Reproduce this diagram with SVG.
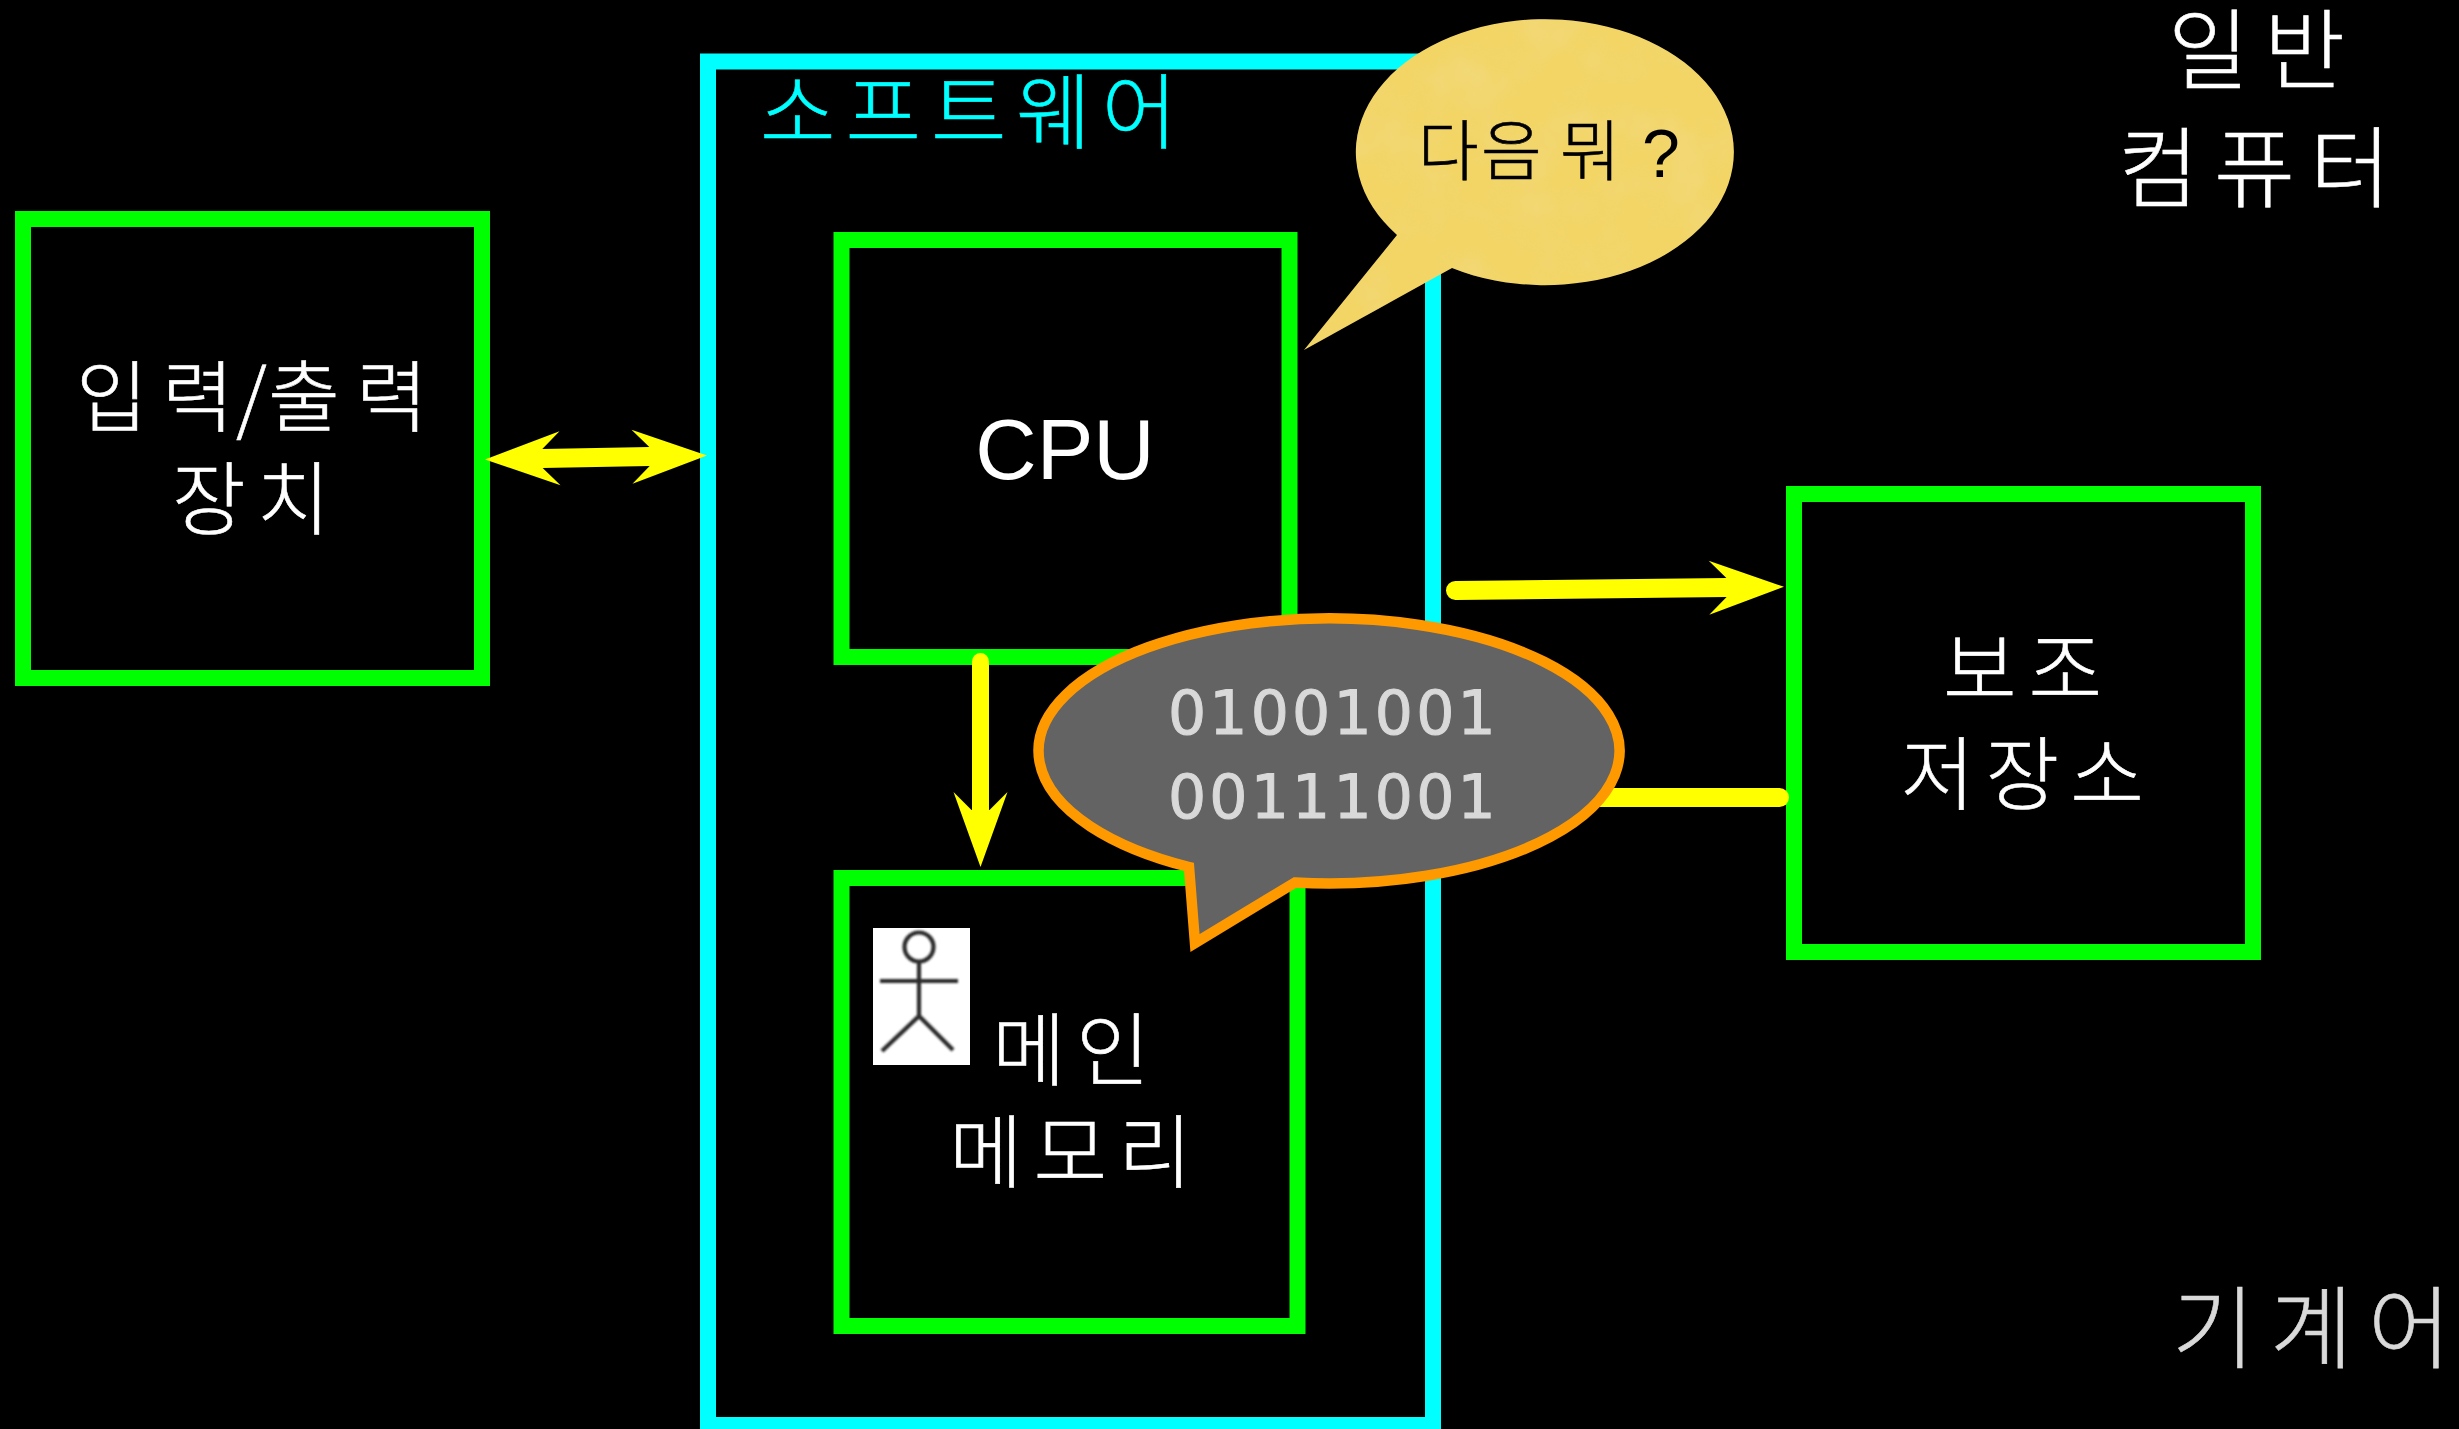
<svg xmlns="http://www.w3.org/2000/svg" width="2459" height="1429" viewBox="0 0 2459 1429">
<style>
.box{fill:none;stroke:#00ff00;stroke-width:16}
.conn{fill:none;stroke:#ffff00;stroke-linecap:round}
text{font-family:"Noto Sans CJK KR","Noto Sans",sans-serif;font-weight:300;stroke-width:0.6}
.w{fill:#ffffff;stroke:#ffffff}
.g{fill:#d9d9d9;stroke:#d9d9d9}
.lat{font-family:"Liberation Sans",Arial,sans-serif;font-weight:400;stroke:none}
.bin{font-family:"DejaVu Sans",sans-serif;font-weight:400;font-size:60px;letter-spacing:3.2px;fill:#d9d9d9;stroke:#d9d9d9;stroke-width:1}
</style>
<defs>
<marker id="head" markerUnits="userSpaceOnUse" viewBox="-80 -30 85 60" markerWidth="85" markerHeight="60" refX="-57" refY="0" orient="auto-start-reverse" overflow="visible">
<polygon points="0,0 -75,-27 -57,-9 -57,9 -75,27" fill="#ffff00"/>
</marker>
<filter id="paper" x="0" y="0" width="1" height="1">
<feTurbulence type="fractalNoise" baseFrequency="0.018" numOctaves="4" seed="7" result="n"/>
<feColorMatrix in="n" type="matrix" values="0 0 0 0 0.88  0 0 0 0 0.7  0 0 0 0 0.22  0 0 0 1.2 -0.5" result="c"/>
<feComposite in="c" in2="SourceAlpha" operator="in" result="t"/>
<feMerge><feMergeNode in="SourceGraphic"/><feMergeNode in="t"/></feMerge>
</filter>
<filter id="soft" x="-10%" y="-10%" width="120%" height="120%"><feGaussianBlur stdDeviation="0.9"/></filter>
</defs>
<rect x="0" y="0" width="2459" height="1429" fill="#000000"/>

<g id="software">
<rect x="708" y="61.5" width="725" height="1363.5" fill="none" stroke="#00ffff" stroke-width="16"/>
<text x="760" y="142" font-size="82" letter-spacing="10" fill="#00ffff" stroke="#00ffff">소프트웨어</text>
</g>
<g id="io">
<rect class="box" x="23" y="219" width="459" height="459"/>
<text class="w" x="76 162 236 268 356" y="426" font-size="78">입력/출력</text>
<text class="w" x="172" y="528" font-size="80" letter-spacing="11">장치</text>
</g>
<g id="cpu">
<rect class="box" x="841.5" y="240" width="448" height="417"/>
<text class="w lat" x="1065" y="479" font-size="85" text-anchor="middle">CPU</text>
</g>
<g id="memory">
<rect class="box" x="841.5" y="878" width="456" height="448"/>
<g id="actor">
<rect x="873" y="928" width="97" height="137" fill="#ffffff"/>
<g fill="none" stroke="#2a2a2a" stroke-width="4.2" filter="url(#soft)">
<circle cx="919" cy="947" r="14.5"/>
<path d="M880,981H958M919,962V1016L882,1051M919,1016L953,1050"/>
</g>
</g>
<text class="w" x="992" y="1079" font-size="80" letter-spacing="10.5">메인</text>
<text class="w" x="949" y="1181" font-size="80" letter-spacing="11">메모리</text>
</g>
<g id="storage">
<rect class="box" x="1794" y="494" width="459" height="458"/>
<text class="w" x="1943" y="698" font-size="80" letter-spacing="12">보조</text>
<text class="w" x="1901" y="803" font-size="80" letter-spacing="11">저장소</text>
</g>

<g id="connectors">
<path class="conn" stroke-width="19" d="M542,458.5L650,456.5" marker-start="url(#head)" marker-end="url(#head)"/>
<path class="conn" stroke-width="19" d="M1455.5,590.5L1727,587.5" marker-end="url(#head)"/>
<path class="conn" stroke-width="17" d="M980.5,661.5V810" marker-end="url(#head)"/>
<path class="conn" stroke-width="19" d="M1600,797.5H1779.5"/>
</g>

<g id="bubble-next">
<path d="M1397,235L1304,350L1452,268A189 133 0 1 0 1397,235Z" fill="#f3d566" filter="url(#paper)"/>
<text x="1418 1481 1545 1560" y="175" font-size="66" fill="#000000" stroke="#000000">다음 뭐<tspan class="lat" x="1642" y="177" font-size="68">?</tspan></text>
</g>
<g id="bubble-binary">
<path d="M1189,867L1195,943L1295,882.5A290.5 132.5 0 1 0 1189,867Z" fill="#636363" stroke="#ff9900" stroke-width="10.5" stroke-miterlimit="10"/>
<text class="bin" x="1168" y="734">01001001</text>
<text class="bin" x="1168" y="818">00111001</text>
</g>

<g id="label-general">
<text class="w" x="2168" y="82" font-size="88" letter-spacing="15">일반</text>
<text class="w" x="2118" y="200" font-size="88" letter-spacing="15">컴퓨터</text>
</g>
<g id="label-machine">
<text class="g" x="2172 2270 2368" y="1361" font-size="90">기계어</text>
</g>
</svg>
